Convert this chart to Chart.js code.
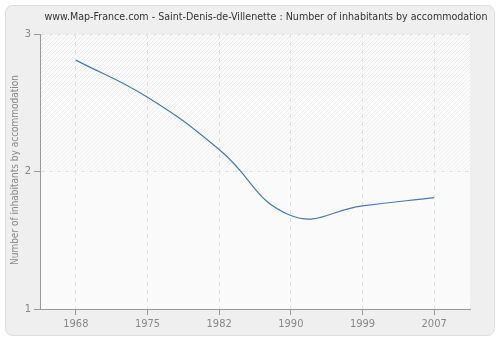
<!DOCTYPE html>
<html>
<head>
<meta charset="utf-8">
<script src="https://cdn.jsdelivr.net/npm/chart.js@4"></script>
<style>
    html, body { margin: 0; padding: 0; background: #ffffff; }
    #wrap { width: 500px; height: 340px; position: relative; }
</style>
</head>
<body>
<div id="wrap"><canvas id="chart" width="500" height="340"></canvas></div>
<script>
const years = ['1968', '1975', '1982', '1990', '1999', '2007'];
const inhabitants = [2.81, 2.54, 2.16, 1.68, 1.75, 1.81];
const yTicks = [1, 2, 3];
const titleText = 'www.Map-France.com - Saint-Denis-de-Villenette : Number of inhabitants by accommodation';
const yTitle = 'Number of inhabitants by accommodation';

const FONT = 'Tahoma, "DejaVu Sans Condensed", "Liberation Sans", sans-serif';

// panel behind everything + hatched plot area
const backdrop = {
    id: 'backdrop',
    beforeDraw(chart) {
        const ctx = chart.ctx;
        const a = chart.chartArea;
        ctx.save();
        ctx.fillStyle = '#ffffff';
        ctx.fillRect(0, 0, chart.width, chart.height);
        ctx.beginPath();
        ctx.roundRect(5.5, 5.5, 489, 330, 7);
        ctx.fillStyle = '#efefef';
        ctx.fill();
        ctx.strokeStyle = '#dedede';
        ctx.lineWidth = 1;
        ctx.stroke();

        ctx.fillStyle = '#fbfbfb';
        ctx.fillRect(a.left, a.top, a.right - a.left, a.bottom - a.top);
        ctx.beginPath();
        ctx.rect(a.left, a.top, a.right - a.left, a.bottom - a.top);
        ctx.clip();
        const h = a.bottom - a.top;
        const grad = ctx.createLinearGradient(0, a.top, 0, a.bottom);
        grad.addColorStop(0, 'rgba(215,215,215,0.45)');
        grad.addColorStop(0.5, 'rgba(220,220,220,0.35)');
        grad.addColorStop(0.5, 'rgba(230,230,230,0.22)');
        grad.addColorStop(1, 'rgba(235,235,235,0.15)');
        ctx.strokeStyle = grad;
        ctx.lineWidth = 1;
        ctx.beginPath();
        for (let x = a.left - h; x < a.right; x += 4) {
            ctx.moveTo(x, a.bottom);
            ctx.lineTo(x + h, a.top);
        }
        ctx.stroke();
        ctx.restore();
    },
    afterDraw(chart) {
        const ctx = chart.ctx;
        ctx.save();
        ctx.font = '11px ' + FONT;
        ctx.fillStyle = '#333333';
        ctx.textAlign = 'center';
        ctx.textBaseline = 'middle';
        ctx.fillText(titleText, 266, 17, 443);

        ctx.translate(15, 170);
        ctx.rotate(-Math.PI / 2);
        ctx.font = '10px ' + FONT;
        ctx.fillStyle = '#888888';
        ctx.fillText(yTitle, 0, 0, 190);
        ctx.restore();
    }
};

new Chart(document.getElementById('chart'), {
    type: 'line',
    data: {
        labels: years,
        datasets: [{
            data: inhabitants,
            borderColor: '#4a79b0',
            borderWidth: 1.2,
            pointRadius: 0,
            tension: 0.45,
            fill: false
        }]
    },
    options: {
        responsive: false,
        animation: false,
        layout: { padding: { top: 34, right: 30, left: 0, bottom: 0 } },
        plugins: {
            legend: { display: false },
            tooltip: { enabled: false },
            title: { display: false }
        },
        scales: {
            x: {
                offset: true,
                grid: {
                    offset: false,
                    color: '#e2e2e2',
                    tickColor: '#999999',
                    tickLength: 6,
                    drawTicks: true
                },
                border: { color: '#999999', dash: [4, 4], width: 1 },
                ticks: { color: '#888888', font: { size: 11, family: FONT }, padding: 3, maxRotation: 0 },
                afterFit(scale) { scale.height = 31; }
            },
            y: {
                min: 1,
                max: 3,
                afterBuildTicks(scale) { scale.ticks = yTicks.map(v => ({ value: v })); },
                grid: {
                    color: '#e2e2e2',
                    tickColor: '#999999',
                    tickLength: 6
                },
                border: { color: '#999999', dash: [4, 4], width: 1 },
                ticks: { color: '#888888', font: { size: 11, family: FONT }, padding: 3 },
                afterFit(scale) { scale.width = 40; }
            }
        }
    },
    plugins: [backdrop]
});
</script>
</body>
</html>
